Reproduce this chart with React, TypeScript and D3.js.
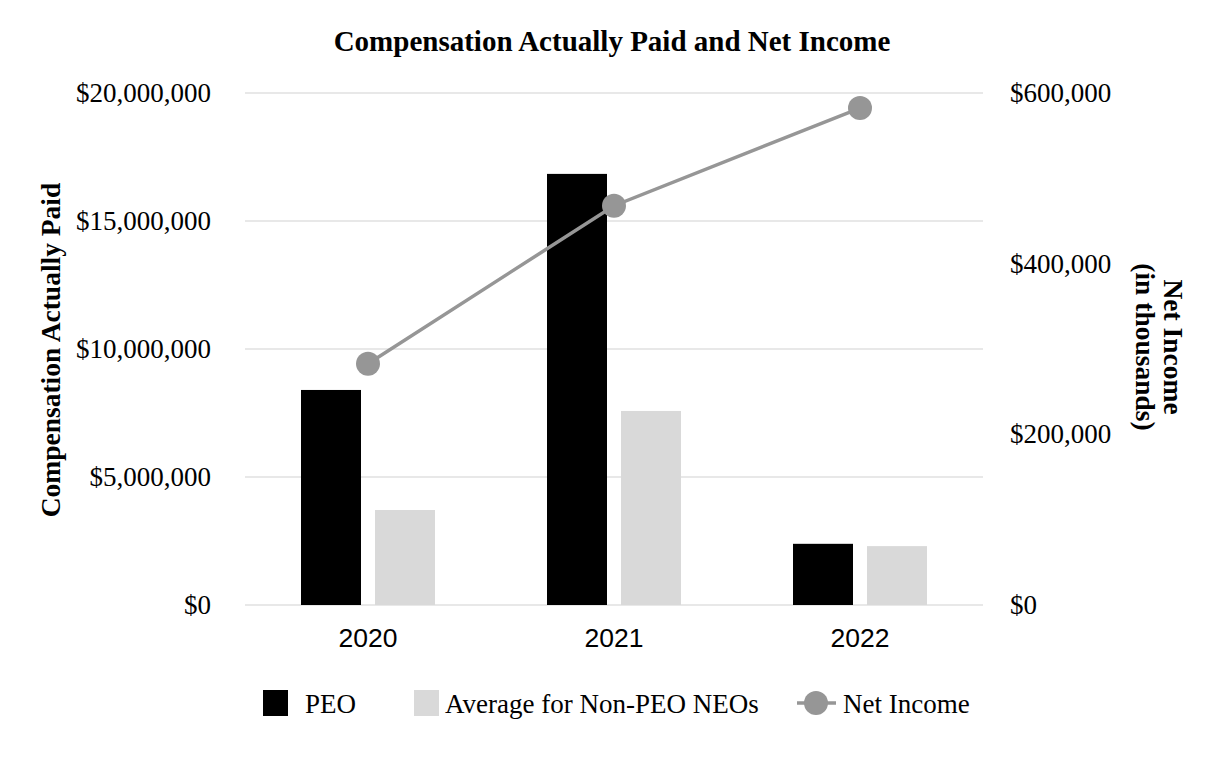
import * as d3 from "d3";

const years = ["2020", "2021", "2022"];
const peo = [8400000, 16840000, 2390000];
const nonPeo = [3710000, 7580000, 2300000];
const netIncome = [282800, 467900, 582400];
const leftTicks = [0, 5000000, 10000000, 15000000, 20000000];
const rightTicks = [0, 200000, 400000, 600000];

const W = 1226;
const H = 760;
const plot = { left: 245, right: 983, top: 93, bottom: 605 };
const serif = "'Liberation Serif', 'Times New Roman', serif";
const sans = "'Liberation Sans', Arial, sans-serif";

export default function App() {
  const x = d3.scaleBand<string>().domain(years).range([plot.left, plot.right]);
  const yL = d3.scaleLinear().domain([0, 20000000]).range([plot.bottom, plot.top]);
  const yR = d3.scaleLinear().domain([0, 600000]).range([plot.bottom, plot.top]);
  const barW = 60;
  const gap = 14;
  const fmt = (v: number) => "$" + d3.format(",")(v);
  const cx = (y: string) => (x(y) as number) + x.bandwidth() / 2;

  const line = d3
    .line<number>()
    .x((_, i) => cx(years[i]))
    .y((d) => yR(d));

  return (
    <svg
      width={W}
      height={H}
      style={{ position: "absolute", left: 0, top: 0, background: "#fff" }}
    >
      <text x={612} y={51} textAnchor="middle" fontFamily={serif} fontWeight="bold" fontSize={29}>
        Compensation Actually Paid and Net Income
      </text>

      {leftTicks.map((t) => (
        <g key={t}>
          <line x1={plot.left} x2={plot.right} y1={yL(t)} y2={yL(t)} stroke="#e0e0e0" strokeWidth={1.5} />
          <text x={211} y={yL(t) + 9} textAnchor="end" fontFamily={serif} fontSize={27}>
            {fmt(t)}
          </text>
        </g>
      ))}
      {rightTicks.map((t) => (
        <text key={t} x={1010} y={yR(t) + 9} textAnchor="start" fontFamily={serif} fontSize={27}>
          {fmt(t)}
        </text>
      ))}

      {years.map((y, i) => (
        <g key={y}>
          <rect x={cx(y) - gap / 2 - barW} y={yL(peo[i])} width={barW} height={yL(0) - yL(peo[i])} fill="#000" />
          <rect x={cx(y) + gap / 2} y={yL(nonPeo[i])} width={barW} height={yL(0) - yL(nonPeo[i])} fill="#d9d9d9" />
          <text x={cx(y)} y={647} textAnchor="middle" fontFamily={sans} fontSize={26.5}>
            {y}
          </text>
        </g>
      ))}

      <path d={line(netIncome) as string} fill="none" stroke="#969696" strokeWidth={3.5} />
      {netIncome.map((v, i) => (
        <circle key={i} cx={cx(years[i])} cy={yR(v)} r={12} fill="#969696" />
      ))}

      <text
        transform="translate(60,350) rotate(-90)"
        textAnchor="middle"
        fontFamily={serif}
        fontWeight="bold"
        fontSize={27.5}
      >
        Compensation Actually Paid
      </text>
      <g transform="translate(1164,347) rotate(90)" fontFamily={serif} fontWeight="bold" fontSize={27.5}>
        <text x={0} y={0} textAnchor="middle">Net Income</text>
        <text x={0} y={28} textAnchor="middle">(in thousands)</text>
      </g>

      <g fontFamily={serif} fontSize={27}>
        <rect x={263} y={690} width={25} height={26} fill="#000" />
        <text x={305} y={713}>PEO</text>
        <rect x={414} y={690} width={25} height={26} fill="#d9d9d9" />
        <text x={445} y={713}>Average for Non-PEO NEOs</text>
        <line x1={797} x2={836} y1={703} y2={703} stroke="#969696" strokeWidth={3.5} />
        <circle cx={816} cy={703} r={12} fill="#969696" />
        <text x={843} y={713}>Net Income</text>
      </g>
    </svg>
  );
}
